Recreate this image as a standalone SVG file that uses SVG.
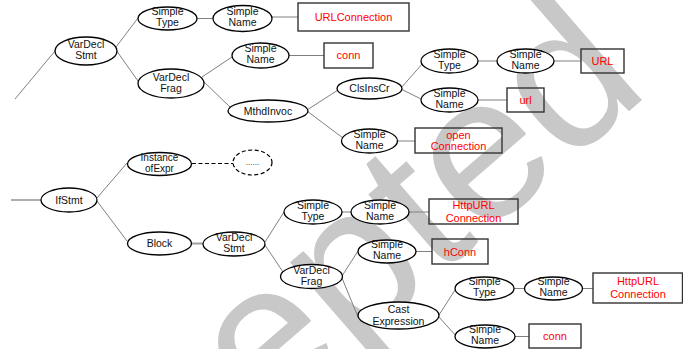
<svg xmlns="http://www.w3.org/2000/svg" width="683" height="349" viewBox="0 0 683 349">
<style>
.wm{font-family:"Liberation Sans",Arial,sans-serif;font-size:205px;fill:#c8c8c8}
.e{fill:#fff;stroke:#000;stroke-width:1.3}
.d{fill:#fff;stroke:#000;stroke-width:1.2;stroke-dasharray:4 2.5}
.b{fill:none;stroke:#333;stroke-width:1.4}
.t{font-family:"Liberation Sans Narrow","Liberation Sans",Arial,sans-serif;font-size:10.5px;fill:#111;text-anchor:middle}
.r{font-family:"Liberation Sans Narrow","Liberation Sans",Arial,sans-serif;font-size:11px;fill:#ff0000;text-anchor:middle}
.c line{stroke:#808080;stroke-width:1}
</style>
<rect width="683" height="349" fill="#fff"/>
<text class="wm" transform="translate(7,652) rotate(-41)">Accepted</text>
<g id="connectors" class="c">
<line x1="15" y1="99" x2="55" y2="51"/>
<line x1="116" y1="47" x2="138" y2="18"/>
<line x1="116" y1="50" x2="138" y2="81"/>
<line x1="197" y1="18.5" x2="213" y2="18.5"/>
<line x1="272" y1="17" x2="298" y2="17"/>
<line x1="202" y1="77" x2="232" y2="57"/>
<line x1="202" y1="80" x2="230" y2="107"/>
<line x1="289" y1="55.5" x2="324" y2="55.5"/>
<line x1="307" y1="110" x2="338" y2="90"/>
<line x1="307" y1="111" x2="343" y2="138"/>
<line x1="401" y1="88" x2="423" y2="63"/>
<line x1="401" y1="89" x2="423" y2="100"/>
<line x1="478" y1="61" x2="497" y2="61"/>
<line x1="554" y1="61" x2="581" y2="61"/>
<line x1="478" y1="100" x2="507" y2="100"/>
<line x1="397" y1="141" x2="415" y2="141"/>
<line x1="11" y1="200" x2="41" y2="200" style="stroke-width:1.3"/>
<line x1="97" y1="198" x2="127" y2="163"/>
<line x1="97" y1="201" x2="127" y2="241"/>
<line x1="192" y1="163.5" x2="233" y2="163.5" style="stroke:#000;stroke-width:1.2;stroke-dasharray:4 2.5"/>
<line x1="191" y1="243.5" x2="204" y2="243.5" style="stroke:#a0a0a0;stroke-width:2"/>
<line x1="265" y1="242" x2="284" y2="212"/>
<line x1="265" y1="245" x2="283" y2="272"/>
<line x1="342" y1="212" x2="351" y2="212"/>
<line x1="409" y1="212" x2="429" y2="212"/>
<line x1="342" y1="276" x2="358" y2="251"/>
<line x1="342" y1="278" x2="358" y2="317"/>
<line x1="416" y1="251.5" x2="432" y2="251.5"/>
<line x1="439" y1="315" x2="455" y2="290"/>
<line x1="439" y1="317" x2="456" y2="336"/>
<line x1="514" y1="288.5" x2="525" y2="288.5"/>
<line x1="582" y1="288.5" x2="593" y2="288.5"/>
<line x1="515" y1="336.5" x2="529" y2="336.5"/>
</g>
<g id="n1"><ellipse class="e" cx="86" cy="51" rx="31" ry="14"/><text class="t" x="86" y="48">VarDecl</text><text class="t" x="86" y="59">Stmt</text></g>
<g id="n2"><ellipse class="e" cx="167.5" cy="18.5" rx="29.5" ry="11.5"/><text class="t" x="167.5" y="15">Simple</text><text class="t" x="167.5" y="26">Type</text></g>
<g id="n3"><ellipse class="e" cx="242.5" cy="18.5" rx="29.5" ry="13"/><text class="t" x="242.5" y="15">Simple</text><text class="t" x="242.5" y="26">Name</text></g>
<g id="b1"><rect class="b" x="298" y="3" width="111" height="28"/><text class="r" x="353.5" y="20.5">URLConnection</text></g>
<g id="n4"><ellipse class="e" cx="171" cy="83.5" rx="33" ry="14.5"/><text class="t" x="171" y="80.5">VarDecl</text><text class="t" x="171" y="91.5">Frag</text></g>
<g id="n5"><ellipse class="e" cx="260.5" cy="55.5" rx="28.5" ry="12.5"/><text class="t" x="260.5" y="52">Simple</text><text class="t" x="260.5" y="63">Name</text></g>
<g id="b2"><rect class="b" x="324" y="43" width="49" height="25"/><text class="r" x="348.5" y="59">conn</text></g>
<g id="n6"><ellipse class="e" cx="268" cy="111" rx="40" ry="11"/><text class="t" x="268" y="114.5">MthdInvoc</text></g>
<g id="n7"><ellipse class="e" cx="369.5" cy="88.5" rx="32.5" ry="10.5"/><text class="t" x="369.5" y="92">ClsInsCr</text></g>
<g id="n8"><ellipse class="e" cx="449.5" cy="61" rx="28.5" ry="12"/><text class="t" x="449.5" y="57.5">Simple</text><text class="t" x="449.5" y="68.5">Type</text></g>
<g id="n9"><ellipse class="e" cx="525.5" cy="61" rx="28.5" ry="12"/><text class="t" x="525.5" y="57.5">Simple</text><text class="t" x="525.5" y="68.5">Name</text></g>
<g id="b3"><rect class="b" x="581" y="49" width="43" height="24"/><text class="r" x="602.5" y="64.5">URL</text></g>
<g id="n10"><ellipse class="e" cx="449.5" cy="100" rx="28.5" ry="12"/><text class="t" x="449.5" y="96.5">Simple</text><text class="t" x="449.5" y="107.5">Name</text></g>
<g id="b4"><rect class="b" x="507" y="88" width="37" height="24"/><text class="r" x="525.5" y="103.5">url</text></g>
<g id="n11"><ellipse class="e" cx="369.5" cy="141" rx="28" ry="12"/><text class="t" x="369.5" y="137.5">Simple</text><text class="t" x="369.5" y="148.5">Name</text></g>
<g id="b5"><rect class="b" x="415" y="128" width="87" height="25"/><text class="r" x="458.5" y="138.5">open</text><text class="r" x="458.5" y="150">Connection</text></g>
<g id="n12"><ellipse class="e" cx="69" cy="200" rx="28" ry="12"/><text class="t" x="69" y="203.5">IfStmt</text></g>
<g id="n13"><ellipse class="e" cx="159.5" cy="164" rx="32" ry="11.5"/><text class="t" x="159.5" y="161" style="font-size:10px">Instance</text><text class="t" x="159.5" y="172" style="font-size:10px">ofExpr</text></g>
<g id="n14"><ellipse class="d" cx="252.5" cy="162.5" rx="19.5" ry="12.5"/><text class="t" x="252.5" y="165" style="font-size:8px">......</text></g>
<g id="n15"><ellipse class="e" cx="159.5" cy="243.5" rx="32" ry="11.5"/><text class="t" x="159.5" y="247">Block</text></g>
<g id="n16"><ellipse class="e" cx="234" cy="244" rx="31" ry="12"/><text class="t" x="234" y="241">VarDecl</text><text class="t" x="234" y="252">Stmt</text></g>
<g id="n17"><ellipse class="e" cx="313" cy="212" rx="29" ry="12"/><text class="t" x="313" y="208.5">Simple</text><text class="t" x="313" y="219.5">Type</text></g>
<g id="n18"><ellipse class="e" cx="380" cy="212" rx="29" ry="12"/><text class="t" x="380" y="208.5">Simple</text><text class="t" x="380" y="219.5">Name</text></g>
<g id="b6"><rect class="b" x="429" y="199" width="89" height="25"/><text class="r" x="473.5" y="209">HttpURL</text><text class="r" x="473.5" y="222">Connection</text></g>
<g id="n19"><ellipse class="e" cx="387" cy="251.5" rx="29" ry="11.5"/><text class="t" x="387" y="248">Simple</text><text class="t" x="387" y="259">Name</text></g>
<g id="b7"><rect class="b" x="432" y="239" width="56" height="25"/><text class="r" x="460" y="255.5">hConn</text></g>
<g id="n20"><ellipse class="e" cx="311.5" cy="276.5" rx="31" ry="12"/><text class="t" x="311.5" y="273.5">VarDecl</text><text class="t" x="311.5" y="284.5">Frag</text></g>
<g id="n21"><ellipse class="e" cx="398.5" cy="315.5" rx="40.5" ry="13.5"/><text class="t" x="398.5" y="313">Cast</text><text class="t" x="398.5" y="324.5">Expression</text></g>
<g id="n22"><ellipse class="e" cx="484.5" cy="288.5" rx="29.5" ry="11.5"/><text class="t" x="484.5" y="285">Simple</text><text class="t" x="484.5" y="296">Type</text></g>
<g id="n23"><ellipse class="e" cx="553.5" cy="288.5" rx="29" ry="11.5"/><text class="t" x="553.5" y="285">Simple</text><text class="t" x="553.5" y="296">Name</text></g>
<g id="b8"><rect class="b" x="593" y="273" width="89.5" height="30"/><text class="r" x="638" y="284.5">HttpURL</text><text class="r" x="638" y="298">Connection</text></g>
<g id="n24"><ellipse class="e" cx="485" cy="336.5" rx="30" ry="11.5"/><text class="t" x="485" y="333">Simple</text><text class="t" x="485" y="344">Name</text></g>
<g id="b9"><rect class="b" x="529" y="324" width="52" height="24"/><text class="r" x="555" y="340">conn</text></g>
</svg>
